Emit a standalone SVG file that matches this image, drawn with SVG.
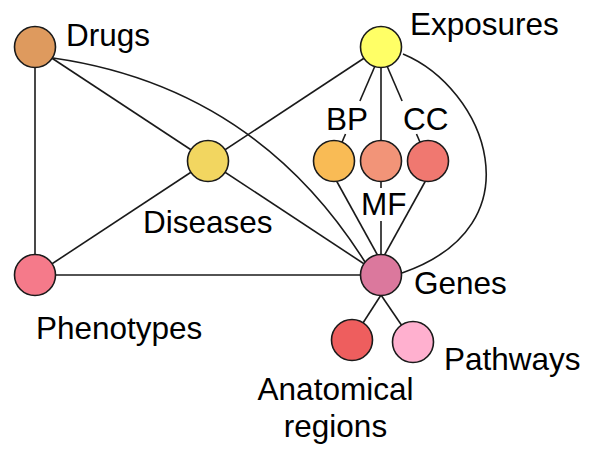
<svg xmlns="http://www.w3.org/2000/svg" width="590" height="449" viewBox="0 0 590 449">
<style>
.e{fill:none;stroke:#1a1a1a;stroke-width:1.6}
.n{stroke:#1a1a1a;stroke-width:1.6}
.t{font-family:"Liberation Sans",Arial,sans-serif;font-size:31.5px;fill:#000}
</style>
<rect width="590" height="449" fill="#fff"/>
<g id="connectors">
<line class="e" x1="35" y1="47" x2="35" y2="275"/>
<line class="e" x1="35" y1="47" x2="208" y2="161"/>
<path class="e" d="M53,58 Q255,87 365,262"/>
<line class="e" x1="381" y1="47" x2="208" y2="161"/>
<line class="e" x1="208" y1="161" x2="35" y2="275"/>
<line class="e" x1="208" y1="161" x2="381" y2="275"/>
<line class="e" x1="35" y1="275" x2="381" y2="275"/>
<path class="e" d="M403,54 C485,88 540,225 402,273"/>
<line class="e" x1="381" y1="52" x2="359.9" y2="101"/>
<line class="e" x1="345.5" y1="134" x2="334" y2="161"/>
<line class="e" x1="381" y1="47" x2="381" y2="161"/>
<line class="e" x1="381" y1="52" x2="402.1" y2="101"/>
<line class="e" x1="416.5" y1="134" x2="428" y2="161"/>
<line class="e" x1="336" y1="180" x2="378" y2="256"/>
<line class="e" x1="381" y1="180" x2="381" y2="188"/>
<line class="e" x1="381" y1="221" x2="381" y2="256"/>
<line class="e" x1="426" y1="180" x2="384" y2="256"/>
<line class="e" x1="381" y1="295" x2="352" y2="340"/>
<line class="e" x1="381" y1="295" x2="413" y2="342"/>
</g>
<g id="drugs"><circle class="n" cx="35" cy="47" r="20.5" fill="#DE9A5E"/><text class="t" x="66" y="46">Drugs</text></g>
<g id="exposures"><circle class="n" cx="381" cy="47" r="20.5" fill="#FFFF66"/><text class="t" x="410" y="35">Exposures</text></g>
<g id="bp"><circle class="n" cx="334" cy="161" r="20.5" fill="#F9BB55"/><text class="t" x="326" y="130">BP</text></g>
<g id="mf"><circle class="n" cx="381" cy="161" r="20.5" fill="#F29478"/><text class="t" x="361" y="215">MF</text></g>
<g id="cc"><circle class="n" cx="428" cy="161" r="20.5" fill="#F07870"/><text class="t" x="403" y="130">CC</text></g>
<g id="diseases"><circle class="n" cx="208" cy="161" r="20.5" fill="#F2D660"/><text class="t" x="143" y="233">Diseases</text></g>
<g id="phenotypes"><circle class="n" cx="35" cy="275" r="20.5" fill="#F57A8A"/><text class="t" x="36" y="339">Phenotypes</text></g>
<g id="genes"><circle class="n" cx="381" cy="275" r="20.5" fill="#DB789D"/><text class="t" x="414" y="294">Genes</text></g>
<g id="anatomical"><circle class="n" cx="352" cy="340" r="20.5" fill="#EE5E5E"/><text class="t" x="335.5" y="400" text-anchor="middle">Anatomical</text><text class="t" x="335.5" y="437" text-anchor="middle">regions</text></g>
<g id="pathways"><circle class="n" cx="413" cy="342" r="20.5" fill="#FFB0CF"/><text class="t" x="444" y="370">Pathways</text></g>
</svg>
